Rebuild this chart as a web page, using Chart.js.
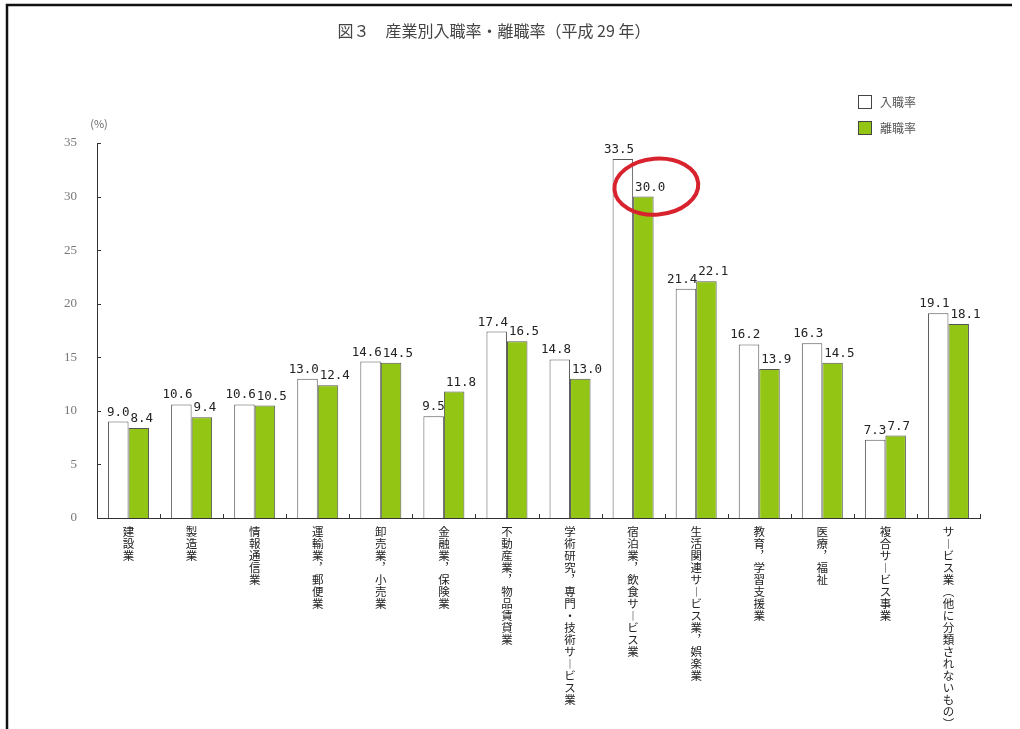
<!DOCTYPE html>
<html>
<head>
<meta charset="utf-8">
<script src="https://cdn.jsdelivr.net/npm/chart.js@4/dist/chart.umd.min.js"></script>
<style>
  html, body { margin: 0; padding: 0; background: #fff; }
  #wrap { width: 1020px; height: 729px; position: relative; }
</style>
</head>
<body>
<div id="wrap"><canvas id="chart"></canvas></div>
<script>
// Data
const industries = [
    '建設業', '製造業', '情報通信業', '運輸業，郵便業', '卸売業，小売業',
    '金融業，保険業', '不動産業，物品賃貸業', '学術研究，専門・技術サービス業',
    '宿泊業，飲食サービス業', '生活関連サービス業，娯楽業', '教育，学習支援業',
    '医療，福祉', '複合サービス事業', 'サービス業（他に分類されないもの）'
];
const entryRate = [9.0, 10.6, 10.6, 13.0, 14.6, 9.5, 17.4, 14.8, 33.5, 21.4, 16.2, 16.3, 7.3, 19.1];
const leaveRate = [8.4, 9.4, 10.5, 12.4, 14.5, 11.8, 16.5, 13.0, 30.0, 22.1, 13.9, 14.5, 7.7, 18.1];
const yTicks = [0, 5, 10, 15, 20, 25, 30, 35];
const highlightIndex = 8; // 宿泊業，飲食サービス業 (離職率 circled)

const titleText = '図３　産業別入職率・離職率（平成 29 年）';
const unitText = '(%)';

// vertical writing: one character per line, with vertical forms for punctuation
const verticalForms = { '，': '︐', 'ー': '︱', '（': '︵', '）': '︶' };
function toVertical(s) {
    return Array.from(s).map(ch => verticalForms[ch] || ch);
}

const GREEN = '#93c614';
const EDGE = '#555';

// Extra drawing: frame, title, legend, unit, small ticks, value labels, red circle
const decorations = {
    id: 'decorations',
    beforeDraw(chart) {
        const c = chart.ctx;
        c.save();
        c.fillStyle = '#fff';
        c.fillRect(0, 0, chart.width, chart.height);
        c.strokeStyle = '#111';
        c.lineWidth = 2.5;
        c.beginPath();
        c.moveTo(7, chart.height);
        c.lineTo(7, 5);
        c.lineTo(1012, 5);
        c.stroke();
        c.restore();
    },
    afterDraw(chart) {
        const c = chart.ctx;
        const y = chart.scales.y;
        const area = chart.chartArea;
        c.save();

        // title
        c.fillStyle = '#444';
        c.font = '16px "Noto Sans CJK JP"';
        c.textAlign = 'center';
        c.textBaseline = 'middle';
        c.fillText(titleText, 494, 31);

        // unit
        c.font = '11px "Noto Sans CJK JP"';
        c.fillStyle = '#666';
        c.fillText(unitText, 99, 124);

        // legend
        const legend = [['入職率', '#fff'], ['離職率', GREEN]];
        c.textAlign = 'left';
        c.font = '12px "Noto Sans CJK JP"';
        legend.forEach((item, i) => {
            const ly = 95 + i * 26;
            c.fillStyle = item[1];
            c.fillRect(858, ly, 14, 14);
            c.strokeStyle = '#444';
            c.lineWidth = 1;
            c.strokeRect(858.5, ly + 0.5, 13, 13);
            c.fillStyle = '#555';
            c.fillText(item[0], 880, ly + 7);
        });

        // small inward ticks
        c.strokeStyle = '#333';
        c.lineWidth = 1;
        c.beginPath();
        yTicks.forEach(v => {
            const py = Math.round(y.getPixelForValue(v)) + 0.5;
            c.moveTo(area.left, py);
            c.lineTo(area.left + 4, py);
        });
        for (let i = 0; i <= industries.length; i++) {
            const px = Math.round(area.left + (area.right - area.left) * i / industries.length) + 0.5;
            c.moveTo(px, area.bottom);
            c.lineTo(px, area.bottom - 4);
        }
        c.stroke();

        // value labels: 入職率 right-aligned to its bar, 離職率 left-aligned
        c.fillStyle = '#222';
        c.font = '12.5px "DejaVu Sans Mono"';
        c.textBaseline = 'bottom';
        chart.data.datasets.forEach((ds, di) => {
            chart.getDatasetMeta(di).data.forEach((bar, i) => {
                const half = bar.width / 2;
                if (di === 0) {
                    c.textAlign = 'right';
                    c.fillText(ds.data[i].toFixed(1), bar.x + half + 1, bar.y - 3);
                } else {
                    c.textAlign = 'left';
                    c.fillText(ds.data[i].toFixed(1), bar.x - half + 2, bar.y - 3);
                }
            });
        });

        // red circle around the highlighted leave rate
        const hb = chart.getDatasetMeta(1).data[highlightIndex];
        c.strokeStyle = '#d8232f';
        c.lineWidth = 4;
        c.beginPath();
        c.ellipse(hb.x + 13, hb.y - 10, 42, 28, -0.08, 0, Math.PI * 2);
        c.stroke();

        c.restore();
    }
};

new Chart(document.getElementById('chart'), {
    type: 'bar',
    data: {
        labels: industries.map(toVertical),
        datasets: [
            {
                label: '入職率',
                data: entryRate,
                backgroundColor: '#fff',
                borderColor: EDGE,
                borderWidth: 1
            },
            {
                label: '離職率',
                data: leaveRate,
                backgroundColor: GREEN,
                borderColor: EDGE,
                borderWidth: 1
            }
        ]
    },
    options: {
        responsive: true,
        maintainAspectRatio: false,
        animation: false,
        layout: { padding: { top: 143, left: 0, right: 40, bottom: 0 } },
        datasets: { bar: { categoryPercentage: 0.65, barPercentage: 1.0 } },
        plugins: {
            legend: { display: false },
            tooltip: { enabled: false }
        },
        scales: {
            x: {
                grid: { display: false, drawTicks: false },
                border: { display: true, color: '#333', width: 1 },
                ticks: {
                    autoSkip: false,
                    maxRotation: 0,
                    minRotation: 0,
                    padding: 8,
                    color: '#222',
                    font: { family: '"Noto Sans CJK JP"', size: 11.5, lineHeight: 1.04 }
                },
                afterFit(scale) { scale.height = 211; }
            },
            y: {
                min: 0,
                max: 35,
                grid: { display: false, drawTicks: false },
                border: { display: true, color: '#333', width: 1 },
                ticks: {
                    stepSize: 5,
                    padding: 20,
                    color: '#777',
                    font: { family: '"Liberation Serif"', size: 13 }
                },
                afterFit(scale) { scale.width = 97; }
            }
        }
    },
    plugins: [decorations]
});
</script>
</body>
</html>
